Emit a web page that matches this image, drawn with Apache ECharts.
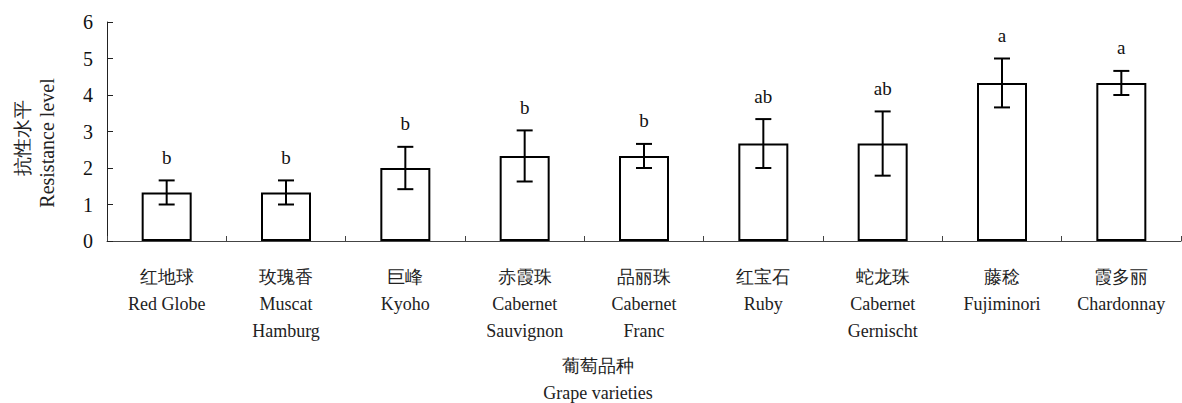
<!DOCTYPE html>
<html><head><meta charset="utf-8">
<script src="https://cdn.jsdelivr.net/npm/echarts@6/dist/echarts.min.js"></script>
<style>html,body{margin:0;padding:0;background:#fff}#c{width:1182px;height:403px}</style>
</head><body><div id="c"></div>
<script>
const categoriesZh = ['红地球','玫瑰香','巨峰','赤霞珠','品丽珠','红宝石','蛇龙珠','藤稔','霞多丽'];
const categoriesEn = ['Red Globe','Muscat\nHamburg','Kyoho','Cabernet\nSauvignon','Cabernet\nFranc','Ruby','Cabernet\nGernischt','Fujiminori','Chardonnay'];
const means = [1.33,1.33,2.0,2.33,2.33,2.67,2.67,4.33,4.33];
const errors = [0.33,0.33,0.58,0.7,0.33,0.67,0.88,0.67,0.33];
const letters = ['b','b','b','b','b','ab','ab','a','a'];
const yTicks = [0,1,2,3,4,5,6];

const FONT = 'Liberation Serif';
const chart = echarts.init(document.getElementById('c'), null, {renderer:'svg'});
const cats = categoriesZh.map((z,i)=>z+'\n'+categoriesEn[i]);
const errData = means.map((m,i)=>[i, m, errors[i]]);

chart.setOption({
  animation:false,
  textStyle:{fontFamily:FONT},
  grid:{left:107,right:1,top:22,bottom:162},
  xAxis:{
    type:'category', data:cats,
    axisLine:{lineStyle:{color:'#444',width:1}},
    axisTick:{show:true,inside:true,length:5,lineStyle:{color:'#444'}},
    axisLabel:{interval:0,margin:22,fontFamily:FONT,fontSize:18,lineHeight:27,color:'#222'}
  },
  yAxis:{
    type:'value', min:0, max:6, interval:1,
    splitLine:{show:false},
    axisLine:{show:true,lineStyle:{color:'#222',width:1}},
    axisTick:{show:true,inside:true,length:6,lineStyle:{color:'#222'}},
    axisLabel:{margin:14,fontFamily:FONT,fontSize:20,color:'#111',
      formatter:v=>yTicks.includes(v)?String(v):''}
  },
  graphic:[
    {type:'text',rotation:Math.PI/2,x:22,y:138,style:{text:'抗性水平',fontFamily:FONT,fontSize:19,fill:'#222',textAlign:'center',textVerticalAlign:'middle'}},
    {type:'text',rotation:Math.PI/2,x:47,y:143,style:{text:'Resistance level',fontFamily:FONT,fontSize:20,fill:'#222',textAlign:'center',textVerticalAlign:'middle'}},
    {type:'text',x:598,y:366,style:{text:'葡萄品种',fontFamily:FONT,fontSize:18,fill:'#222',textAlign:'center',textVerticalAlign:'middle'}},
    {type:'text',x:598,y:393,style:{text:'Grape varieties',fontFamily:FONT,fontSize:18,fill:'#222',textAlign:'center',textVerticalAlign:'middle'}}
  ],
  series:[
    {type:'bar', data:means, barWidth:50,
      itemStyle:{color:'#fff',borderColor:'#000',borderWidth:2}},
    {type:'custom', data:errData, z:5,
      renderItem:(params,api)=>{
        const i=api.value(0), m=api.value(1), e=api.value(2);
        const top=api.coord([i,m+e]), bot=api.coord([i,m-e]);
        const x=top[0], cw=8;
        return {type:'group',children:[
          {type:'line',shape:{x1:x,y1:top[1],x2:x,y2:bot[1]},style:{stroke:'#000',lineWidth:2}},
          {type:'line',shape:{x1:x-cw,y1:top[1],x2:x+cw,y2:top[1]},style:{stroke:'#000',lineWidth:2}},
          {type:'line',shape:{x1:x-cw,y1:bot[1],x2:x+cw,y2:bot[1]},style:{stroke:'#000',lineWidth:2}},
          {type:'text',x:x,y:top[1]-23,style:{text:letters[i],fontFamily:FONT,fontSize:19,fill:'#111',textAlign:'center',textVerticalAlign:'middle'}}
        ]};
      }}
  ]
});
</script></body></html>
